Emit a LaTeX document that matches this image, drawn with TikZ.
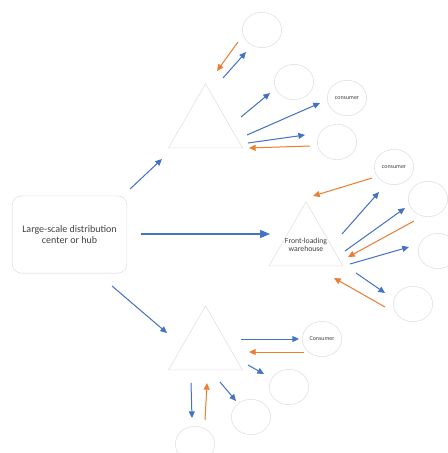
\documentclass[tikz,border=0pt]{standalone}
\usepackage{fontspec}
\setmainfont{Carlito}
\usetikzlibrary{shapes.geometric,arrows.meta}
\definecolor{bcol}{HTML}{4472C4}
\definecolor{ocol}{HTML}{ED7D31}
\definecolor{gcol}{HTML}{E3E3E3}
\definecolor{tcol}{HTML}{404040}
\begin{document}
\begin{tikzpicture}[x=0.75pt,y=-0.75pt,
  circ/.style={draw=gcol, ellipse, minimum width=29.5pt, minimum height=26.5pt, inner sep=0pt, line width=0.5pt, text=tcol, font=\fontsize{4.5}{5}\selectfont},
  tri/.style={draw=gcol, regular polygon, regular polygon sides=3, minimum size=64pt, inner sep=0pt, line width=0.5pt, text=tcol},
  hubbox/.style={draw=gcol, rounded corners=7pt, minimum width=86pt, minimum height=58pt, line width=0.5pt, text=tcol, align=center, font=\fontsize{7.5}{8.7}\selectfont},
  barr/.style={draw=bcol, line width=0.75pt, -{Triangle[length=5pt,width=4.5pt]}, fill=bcol},
  oarr/.style={draw=ocol, line width=0.75pt, -{Triangle[length=5pt,width=4.5pt]}, fill=ocol},
  bigarr/.style={draw=bcol, line width=0.8pt, -{Triangle[length=7.5pt,width=6pt]}, fill=bcol}]
\useasboundingbox (0,0) rectangle (448,453);

% nodes
\node[hubbox] (hub) at (69.5,234.5) {Large-scale distribution\\center or hub};
\node[tri] (t1) at (205.5,126.5) {};
\node[tri] (t2) at (306,244.5) {};
\node[align=center, text=tcol, font=\fontsize{5.8}{6.5}\selectfont, inner sep=0pt] (t2text) at (306,245) {Front-loading\\warehouse};
\node[tri] (t3) at (205.5,348.5) {};

\node[circ] (c1) at (262,30) {};
\node[circ] (c2) at (294,82) {};
\node[circ] (c3) at (347,98) {consumer};
\node[circ] (c4) at (337,142) {};
\node[circ] (c5) at (394,167) {consumer};
\node[circ] (c6) at (428,199) {};
\node[circ] (c7) at (438,251) {};
\node[circ] (c8) at (413,304) {};
\node[circ] (c9) at (322,339) {Consumer};
\node[circ] (c10) at (289,387) {};
\node[circ] (c11) at (251,417) {};
\node[circ] (c12) at (195,444) {};

% arrow end points
\coordinate (h1s) at (130,189); \coordinate (h1e) at (162,159);
\coordinate (h2s) at (141,234); \coordinate (h2e) at (270,234);
\coordinate (h3s) at (112,286); \coordinate (h3e) at (167,333);

\coordinate (a1s) at (238,42);  \coordinate (a1e) at (217,71);
\coordinate (a2s) at (223,78);  \coordinate (a2e) at (246,52);
\coordinate (a3s) at (241,117); \coordinate (a3e) at (270,93);
\coordinate (a4s) at (247,135); \coordinate (a4e) at (320,103);
\coordinate (a5s) at (248,143); \coordinate (a5e) at (305,135);
\coordinate (a6s) at (310,146); \coordinate (a6e) at (249,148);

\coordinate (b1s) at (372,178); \coordinate (b1e) at (313,196);
\coordinate (b2s) at (342,234); \coordinate (b2e) at (379,192);
\coordinate (b3s) at (345,251); \coordinate (b3e) at (405,208);
\coordinate (b4s) at (414,221); \coordinate (b4e) at (348,257);
\coordinate (b5s) at (350,264); \coordinate (b5e) at (409,247);
\coordinate (b6s) at (356,273); \coordinate (b6e) at (385,293);
\coordinate (b7s) at (385,307); \coordinate (b7e) at (334,278);

\coordinate (d1s) at (241,339); \coordinate (d1e) at (299,339);
\coordinate (d2s) at (304,352); \coordinate (d2e) at (249,352);
\coordinate (d3s) at (248,365); \coordinate (d3e) at (264,374);
\coordinate (d4s) at (220,382); \coordinate (d4e) at (236,401);
\coordinate (d5s) at (191,383); \coordinate (d5e) at (192,418);
\coordinate (d6s) at (205,420); \coordinate (d6e) at (207,383);

% connectors
\draw[barr] (h1s) -- (h1e);
\draw[bigarr] (h2s) -- (h2e);
\draw[barr] (h3s) -- (h3e);

\draw[oarr] (a1s) -- (a1e);
\draw[barr] (a2s) -- (a2e);
\draw[barr] (a3s) -- (a3e);
\draw[barr] (a4s) -- (a4e);
\draw[barr] (a5s) -- (a5e);
\draw[oarr] (a6s) -- (a6e);

\draw[oarr] (b1s) -- (b1e);
\draw[barr] (b2s) -- (b2e);
\draw[barr] (b3s) -- (b3e);
\draw[oarr] (b4s) -- (b4e);
\draw[barr] (b5s) -- (b5e);
\draw[barr] (b6s) -- (b6e);
\draw[oarr] (b7s) -- (b7e);

\draw[barr] (d1s) -- (d1e);
\draw[oarr] (d2s) -- (d2e);
\draw[barr] (d3s) -- (d3e);
\draw[barr] (d4s) -- (d4e);
\draw[barr] (d5s) -- (d5e);
\draw[oarr] (d6s) -- (d6e);
\end{tikzpicture}
\end{document}
